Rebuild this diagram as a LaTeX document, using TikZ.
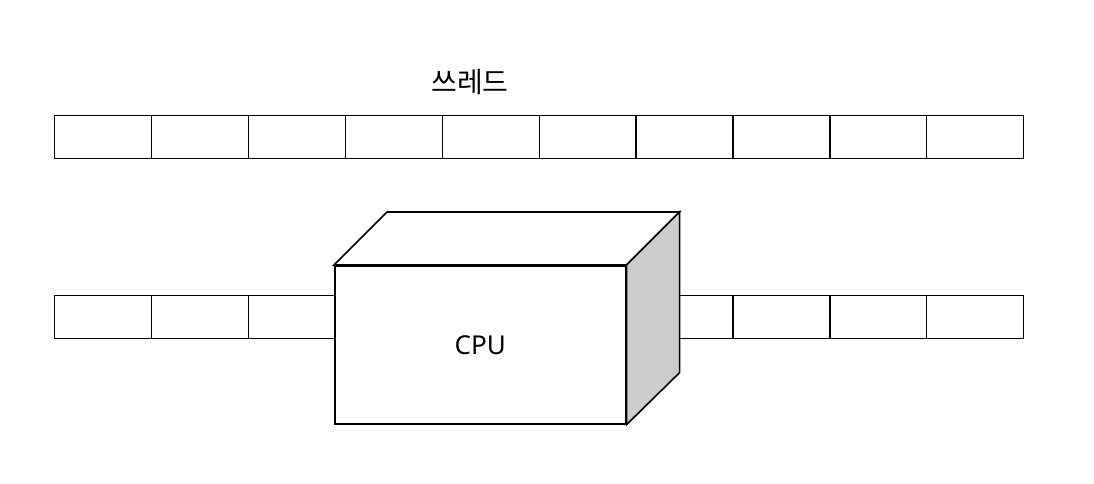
\documentclass[tikz,border=0pt]{standalone}
\usepackage{fontspec}
\usetikzlibrary{calc}
\setmainfont{Noto Sans}
\newfontfamily\kr{Noto Sans CJK KR}
\begin{document}
\begin{tikzpicture}[x=1pt,y=-1pt,
  cell/.style={draw,line width=1.2pt,minimum width=97pt,minimum height=43pt,inner sep=0pt,anchor=north west},
  cubeline/.style={draw,line width=1.6pt,line join=miter}]
\useasboundingbox (0,0) rectangle (1094,484);
\foreach \i in {0,...,9} {
  \node[cell] (t\i) at ({54+96.9*\i},115) {};
  \node[cell] (b\i) at ({54+96.9*\i},295) {};
}
\node[font=\kr\fontsize{28}{32}\selectfont] (lbl) at (470,82) {쓰레드};
% cube
\node[cubeline,fill=white,minimum width=291pt,minimum height=158pt,inner sep=0pt,anchor=north west,font=\fontsize{26}{30}\selectfont] (cpu) at (334,265) {CPU};
\coordinate (tl) at ($(cpu.north west)+(53,-53)$);
\coordinate (tr) at ($(cpu.north east)+(53,-53)$);
\coordinate (br) at ($(cpu.south east)+(53,-52)$);
\draw[cubeline,fill=white] (cpu.north west) -- (tl) -- (tr) -- (cpu.north east) -- cycle;
\draw[cubeline,fill=black!20] (cpu.north east) -- (tr) -- (br) -- (cpu.south east) -- cycle;
\end{tikzpicture}
\end{document}
